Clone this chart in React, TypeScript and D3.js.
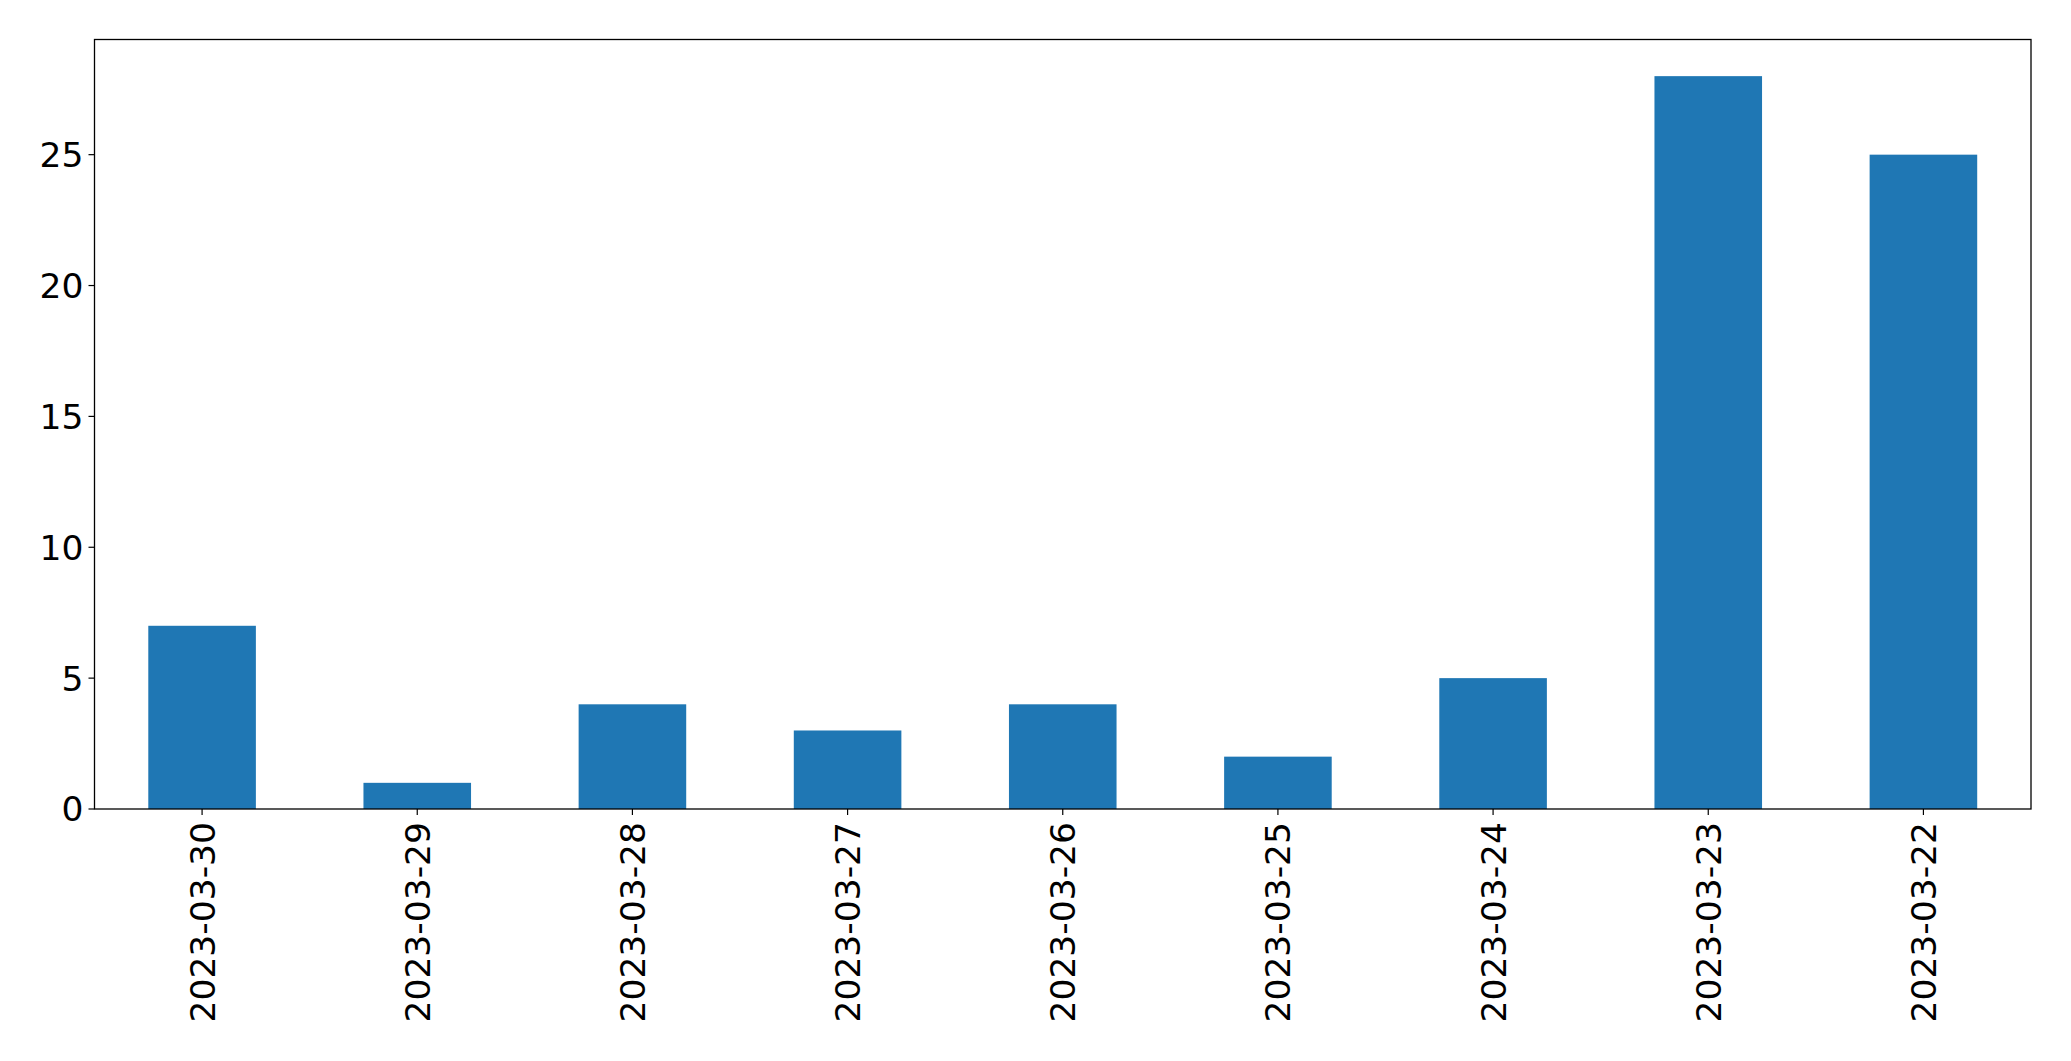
import React, { useEffect } from 'react';
import * as d3 from 'd3';

// dates as shown on the x axis (newest first, as in the source)
const dates = [
  '2023-03-30', '2023-03-29', '2023-03-28', '2023-03-27', '2023-03-26',
  '2023-03-25', '2023-03-24', '2023-03-23', '2023-03-22',
];
const counts = [7, 1, 4, 3, 4, 2, 5, 28, 25];
const yTicks = [0, 5, 10, 15, 20, 25];

const W = 2071;
const H = 1061;
const margin = { top: 39.5, right: 40, bottom: 252, left: 94.5 };
const FONT = 'DejaVu Sans, sans-serif';
const FS = 34.5;

const App: React.FC = () => {
  useEffect(() => {
    document.body.style.margin = '0';
  }, []);

  const innerW = W - margin.left - margin.right;
  const innerH = H - margin.top - margin.bottom;

  // matplotlib-like layout: each category is one unit, bar width 0.5
  const x = d3.scaleLinear().domain([-0.5, dates.length - 0.5]).range([0, innerW]);
  const yMax = (d3.max(counts) || 0) * 1.05;
  const y = d3.scaleLinear().domain([0, yMax]).range([innerH, 0]);
  const barW = x(0.5) - x(0);

  return (
    <svg width={W} height={H} style={{ display: 'block', background: '#fff' }}>
      <g transform={`translate(${margin.left},${margin.top})`}>
        {counts.map((v, i) => (
          <rect
            key={dates[i]}
            x={x(i) - barW / 2}
            y={y(v)}
            width={barW}
            height={innerH - y(v)}
            fill="#1f77b4"
          />
        ))}

        {/* y axis ticks */}
        {yTicks.map(t => (
          <g key={t} transform={`translate(0,${y(t)})`}>
            <line x1={-6} x2={0} stroke="#000" strokeWidth={1.2} />
            <text
              x={-11}
              dy="0.36em"
              textAnchor="end"
              fontFamily={FONT}
              fontSize={FS}
              fill="#000"
            >
              {t}
            </text>
          </g>
        ))}

        {/* x axis ticks, rotated labels */}
        {dates.map((d, i) => (
          <g key={d} transform={`translate(${x(i)},${innerH})`}>
            <line y1={0} y2={6} stroke="#000" strokeWidth={1.2} />
            <text
              transform="translate(0,13) rotate(-90)"
              dy="0.36em"
              textAnchor="end"
              fontFamily={FONT}
              fontSize={FS}
              fill="#000"
            >
              {d}
            </text>
          </g>
        ))}

        <rect
          x={0}
          y={0}
          width={innerW}
          height={innerH}
          fill="none"
          stroke="#000"
          strokeWidth={1.3}
        />
      </g>
    </svg>
  );
};

export default App;
